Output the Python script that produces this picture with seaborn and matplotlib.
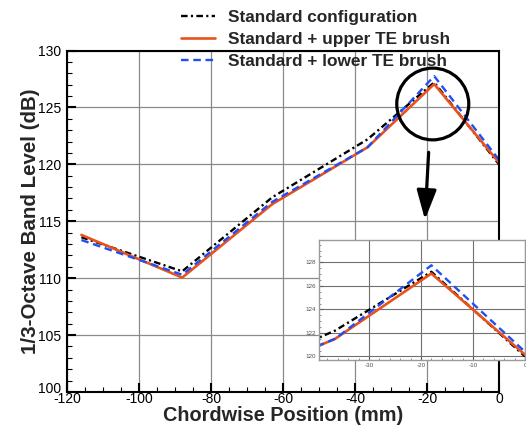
"""
Niveau de bande 1/3 d'octave le long de la corde, avec zoom sur le pic.
"""

import numpy as np
import pandas as pd
import matplotlib.pyplot as plt
import seaborn as sns
from matplotlib.patches import Ellipse
from matplotlib.ticker import MultipleLocator
from matplotlib.transforms import ScaledTranslation


# ===========================================================
# Données
# ===========================================================

position = [-116, -88, -63, -36.5, -18, 0]
standard = [113.6, 110.6, 117.1, 122.2, 127.2, 120.0]
upper_brush = [113.8, 110.05, 116.5, 121.5, 127.05, 120.15]
lower_brush = [113.35, 110.3, 116.7, 121.5, 127.75, 120.4]

labels = ["Standard configuration",
          "Standard + upper TE brush",
          "Standard + lower TE brush"]

x_ticks = [-120, -100, -80, -60, -40, -20, 0]
y_ticks = [100, 105, 110, 115, 120, 125, 130]
inset_x_ticks = [-30, -20, -10, 0]
inset_y_ticks = [120, 122, 124, 126, 128]


# ===========================================================
# Style
# ===========================================================

sns.set_theme(style="white")
plt.rcParams["font.family"] = ["Liberation Sans", "DejaVu Sans"]
plt.rcParams["axes.unicode_minus"] = False

styles = [
    dict(color="black", lw=1.7, linestyle=(0, (2.8, 1.4, 0.9, 1.4))),
    dict(color="#EA521C", lw=1.9, linestyle="-"),
    dict(color="#1F4FF5", lw=1.7, linestyle=(0, (3.2, 2.0))),
]
series = [standard, upper_brush, lower_brush]

fig = plt.figure(figsize=(5.26, 4.28), dpi=100)
ax = fig.add_axes([67 / 526, 36 / 428, 432 / 526, 341.5 / 428])


def draw(axis, with_labels):
    for values, label, st in zip(series, labels, styles):
        sns.lineplot(x=position, y=values, ax=axis,
                     label=label if with_labels else None, **st)


# ===========================================================
# Graphique principal
# ===========================================================

draw(ax, True)
ax.set_xlim(-120, 0)
ax.set_ylim(100, 130)
ax.set_xticks(x_ticks)
ax.set_yticks(y_ticks)
ax.xaxis.set_minor_locator(MultipleLocator(5))
ax.yaxis.set_minor_locator(MultipleLocator(1))
ax.grid(True, which="major", color="#8a8a8a", lw=0.9)
ax.tick_params(which="major", direction="in", length=6.5, width=1.5,
               labelsize=10, color="black", labelcolor="black")
ax.tick_params(which="minor", direction="in", length=3.5, width=0.8,
               color="black")
ax.tick_params(axis="x", which="major", pad=0, bottom=True)
ax.tick_params(axis="y", which="major", pad=4, left=True)
ax.tick_params(axis="both", which="minor", bottom=True, left=True)
for sp in ax.spines.values():
    sp.set_color("black")
    sp.set_linewidth(1.5)

# le "100" est remonté pour ne pas toucher le "-120"
lab100 = ax.get_yticklabels()[0]
lab100.set_transform(lab100.get_transform()
                     + ScaledTranslation(0, 5 / 100, fig.dpi_scale_trans))

ax.set_xlabel("Chordwise Position (mm)", fontsize=14.3, fontweight="bold",
              labelpad=0)
ax.set_ylabel("1/3-Octave Band Level (dB)", fontsize=14.8, fontweight="bold",
              labelpad=-1)

# Cercle autour du pic et flèche vers le zoom
ax.add_patch(Ellipse((-18.4, 125.3), 20, 6.3, fill=False, lw=2.3,
                     color="black", zorder=5))
ax.annotate("", xy=(-20.6, 114.9), xytext=(-19.5, 121.3),
            arrowprops=dict(arrowstyle="-|>,head_length=1.5,head_width=0.5",
                            color="black", lw=2.3))

handles, _ = ax.get_legend_handles_labels()
ax.get_legend().remove()
fig.legend(handles, labels, loc="upper left",
           bbox_to_anchor=(181 / 526, 1 - 10 / 428), frameon=False,
           borderpad=0, borderaxespad=0, handlelength=2.0,
           handletextpad=0.75, labelspacing=0.41,
           prop={"weight": "bold", "size": 12.4})


# ===========================================================
# Encart : zoom sur le pic
# ===========================================================

axin = fig.add_axes([319 / 526, 68 / 428, 206 / 526, 120 / 428])
axin.set_facecolor("white")
draw(axin, False)
axin.set_xlim(-39.6, 0)
axin.set_ylim(119.7, 129.9)
axin.set_xticks(inset_x_ticks)
axin.set_yticks(inset_y_ticks)
axin.xaxis.set_minor_locator(MultipleLocator(2))
axin.yaxis.set_minor_locator(MultipleLocator(0.5))
axin.grid(True, which="major", color="#707070", lw=0.8)
axin.tick_params(which="major", direction="in", length=3, width=0.8,
                 labelsize=4.5, color="#606060", labelcolor="#505050", pad=2,
                 bottom=True, left=True)
axin.tick_params(which="minor", direction="in", length=1.5, width=0.5,
                 color="#606060", bottom=True, left=True)
for sp in axin.spines.values():
    sp.set_color("#9a9a9a")
    sp.set_linewidth(1.0)
axin.set_xlabel("")
axin.set_ylabel("")

fig.savefig("out.png", dpi=100)
